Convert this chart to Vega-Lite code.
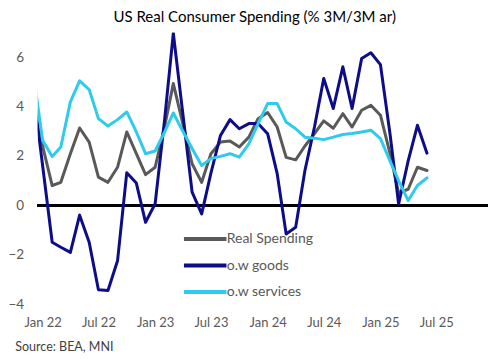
{
  "$schema": "https://vega.github.io/schema/vega-lite/v6.json",
  "width": 450,
  "height": 271.5,
  "autosize": {"type": "none"},
  "padding": {"left": 37.7, "top": 32.5, "right": 15.3, "bottom": 57},
  "background": "white",
  "title": {"text": "US Real Consumer Spending (% 3M/3M ar)", "fontSize": 15, "font": "Lato", "fontWeight": "normal", "color": "#000000", "anchor": "middle", "dx": -8, "offset": 8},
  "config": {"view": {"stroke": null}, "font": "Lato"},
  "data": {"values": [
    {"date": "2021-12-01", "spending": 4.0, "goods": 4.7, "services": 5.4},
    {"date": "2022-01-01", "spending": 2.4, "goods": 1.6, "services": 2.63},
    {"date": "2022-02-01", "spending": 0.8, "goods": -1.5, "services": 1.98},
    {"date": "2022-03-01", "spending": 0.93, "goods": -1.7, "services": 2.36},
    {"date": "2022-04-01", "spending": 2.09, "goods": -1.91, "services": 4.19},
    {"date": "2022-05-01", "spending": 3.13, "goods": -0.4, "services": 5.04},
    {"date": "2022-06-01", "spending": 2.56, "goods": -1.5, "services": 4.69},
    {"date": "2022-07-01", "spending": 1.14, "goods": -3.42, "services": 3.51},
    {"date": "2022-08-01", "spending": 0.93, "goods": -3.45, "services": 3.21},
    {"date": "2022-09-01", "spending": 1.54, "goods": -2.25, "services": 3.47},
    {"date": "2022-10-01", "spending": 2.97, "goods": 1.32, "services": 3.78},
    {"date": "2022-11-01", "spending": 2.09, "goods": 0.9, "services": 2.97},
    {"date": "2022-12-01", "spending": 1.24, "goods": -0.69, "services": 2.09},
    {"date": "2023-01-01", "spending": 1.54, "goods": 0.06, "services": 2.2},
    {"date": "2023-02-01", "spending": 3.2, "goods": 3.5, "services": 2.97},
    {"date": "2023-03-01", "spending": 4.93, "goods": 6.97, "services": 3.74},
    {"date": "2023-04-01", "spending": 3.3, "goods": 3.7, "services": 3.0},
    {"date": "2023-05-01", "spending": 1.68, "goods": 0.53, "services": 2.3},
    {"date": "2023-06-01", "spending": 0.93, "goods": -0.35, "services": 1.61},
    {"date": "2023-07-01", "spending": 2.09, "goods": 1.3, "services": 1.89},
    {"date": "2023-08-01", "spending": 2.56, "goods": 2.83, "services": 1.98},
    {"date": "2023-09-01", "spending": 2.6, "goods": 3.47, "services": 2.09},
    {"date": "2023-10-01", "spending": 2.36, "goods": 3.1, "services": 1.95},
    {"date": "2023-11-01", "spending": 2.76, "goods": 3.31, "services": 2.49},
    {"date": "2023-12-01", "spending": 3.51, "goods": 3.31, "services": 3.31},
    {"date": "2024-01-01", "spending": 3.76, "goods": 2.9, "services": 4.12},
    {"date": "2024-02-01", "spending": 3.17, "goods": 1.28, "services": 4.12},
    {"date": "2024-03-01", "spending": 1.94, "goods": -1.16, "services": 3.37},
    {"date": "2024-04-01", "spending": 1.84, "goods": -0.89, "services": 3.1},
    {"date": "2024-05-01", "spending": 2.4, "goods": 1.41, "services": 2.76},
    {"date": "2024-06-01", "spending": 2.9, "goods": 3.17, "services": 2.72},
    {"date": "2024-07-01", "spending": 3.42, "goods": 5.14, "services": 2.66},
    {"date": "2024-08-01", "spending": 3.12, "goods": 3.92, "services": 2.76},
    {"date": "2024-09-01", "spending": 3.71, "goods": 5.61, "services": 2.87},
    {"date": "2024-10-01", "spending": 3.17, "goods": 3.92, "services": 2.91},
    {"date": "2024-11-01", "spending": 3.85, "goods": 5.95, "services": 2.97},
    {"date": "2024-12-01", "spending": 4.05, "goods": 6.18, "services": 3.04},
    {"date": "2025-01-01", "spending": 3.65, "goods": 5.7, "services": 2.7},
    {"date": "2025-02-01", "spending": 2.1, "goods": 2.9, "services": 1.8},
    {"date": "2025-03-01", "spending": 0.5, "goods": 0.05, "services": 1.0},
    {"date": "2025-04-01", "spending": 0.65, "goods": 1.8, "services": 0.19},
    {"date": "2025-05-01", "spending": 1.54, "goods": 3.24, "services": 0.8},
    {"date": "2025-06-01", "spending": 1.41, "goods": 2.11, "services": 1.11}
  ]},
  "transform": [{"fold": ["spending", "goods", "services"], "as": ["series", "value"]}],
  "layer": [
    {
      "mark": {"type": "rule", "color": "#000000", "strokeWidth": 2},
      "encoding": {"y": {"datum": 0, "type": "quantitative"}}
    },
    {
      "mark": {"type": "line", "strokeWidth": 3, "clip": true, "strokeJoin": "round", "strokeCap": "round"},
      "encoding": {
        "x": {
          "field": "date", "type": "temporal",
          "scale": {"type": "utc", "domain": [{"year": 2021, "month": 12, "date": 16, "utc": true}, {"year": 2025, "month": 12, "date": 15, "utc": true}]},
          "axis": {
            "values": [
              {"year": 2022, "month": 1, "date": 1, "utc": true},
              {"year": 2022, "month": 7, "date": 1, "utc": true},
              {"year": 2023, "month": 1, "date": 1, "utc": true},
              {"year": 2023, "month": 7, "date": 1, "utc": true},
              {"year": 2024, "month": 1, "date": 1, "utc": true},
              {"year": 2024, "month": 7, "date": 1, "utc": true},
              {"year": 2025, "month": 1, "date": 1, "utc": true},
              {"year": 2025, "month": 7, "date": 1, "utc": true}
            ],
            "format": "%b %y",
            "title": "Source: BEA, MNI",
            "titleAnchor": "start", "titleAlign": "left", "titleBaseline": "middle",
            "titleX": -23, "titleY": 42,
            "titleFontSize": 12.5, "titleFontWeight": "normal", "titleColor": "#404040", "titleFont": "Lato",
            "grid": false, "ticks": false, "domain": false,
            "labelFontSize": 13, "labelColor": "#595959", "labelPadding": 12, "labelFont": "Lato"
          }
        },
        "y": {
          "field": "value", "type": "quantitative",
          "scale": {"domain": [-4, 7], "nice": false, "zero": false},
          "axis": {
            "values": [-4, -2, 0, 2, 4, 6],
            "title": null, "ticks": false, "domain": false,
            "gridColor": "#dcdcdc", "gridWidth": 1.5,
            "labelFontSize": 13.5, "labelColor": "#595959", "labelPadding": 14, "labelFont": "Lato"
          }
        },
        "color": {
          "field": "series", "type": "nominal",
          "scale": {"domain": ["spending", "goods", "services"], "range": ["#595959", "#0d0d8a", "#2fcbec"]},
          "legend": {
            "title": null, "orient": "none", "legendX": 157, "legendY": 196,
            "symbolType": "M-2.5,0H2.5", "symbolSize": 289, "symbolStrokeWidth": 4,
            "labelFontSize": 14, "labelColor": "#595959", "labelFont": "Lato", "labelOffset": 11, "rowPadding": 7.5,
            "labelExpr": "datum.value == 'spending' ? 'Real Spending' : datum.value == 'goods' ? 'o.w goods' : 'o.w services'"
          }
        }
      }
    }
  ]
}
